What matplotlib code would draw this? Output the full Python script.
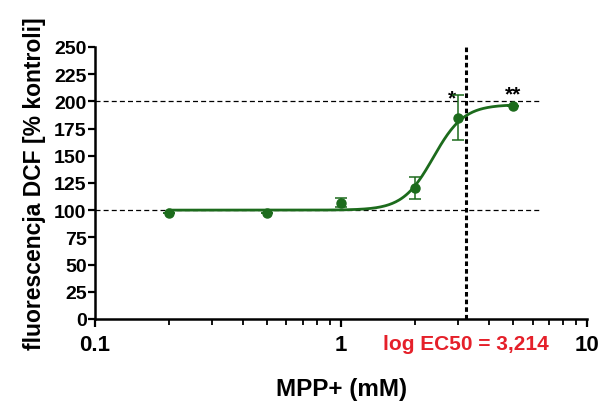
import numpy as np
import matplotlib.pyplot as plt
from matplotlib.ticker import FixedLocator, LogLocator, NullFormatter

plt.rcParams['font.family'] = ['Liberation Sans', 'DejaVu Sans']

# MPP+ concentration (mM) and DCF fluorescence (% of control)
conc_mM = [0.2, 0.5, 1.0, 2.0, 3.0, 5.0]
dcf_mean = [97, 97, 107, 120, 185, 196]
dcf_sem = [0, 0, 4, 10, 21, 0]

# four-parameter logistic fit shown as the curve
fit_bottom = 100.0
fit_top = 197.0
fit_log_ec50 = 0.375
fit_hill = 7.0

ec50_line = 3.214
ec50_label = 'log EC50 = 3,214'
ref_levels = [100, 200]
# significance marks: concentration, text, baseline height
stars = [(3.0, '*', 198.5), (5.0, '**', 202)]

GREEN = '#1c6b1c'


def hill(x):
    return fit_bottom + (fit_top - fit_bottom) / (
        1 + 10 ** ((fit_log_ec50 - np.log10(x)) * fit_hill))


fig = plt.figure(figsize=(6.01, 4.06), dpi=100)
ax = fig.add_axes([0.158, 0.212, 0.819, 0.670])

for lvl in ref_levels:
    ax.plot([0.1, 6.5], [lvl, lvl], color='black', linestyle=(0, (4, 2.5)),
            linewidth=0.9, zorder=1)
ax.plot([ec50_line, ec50_line], [0, 253], color='black', linestyle=(0, (1.5, 1)),
        linewidth=2.2, zorder=1, clip_on=False)

xs = np.logspace(np.log10(conc_mM[0]), np.log10(conc_mM[-1]), 300)
ax.plot(xs, hill(xs), color=GREEN, linewidth=2.0, zorder=3)

ax.errorbar(conc_mM, dcf_mean, yerr=dcf_sem, fmt='o', color=GREEN,
            markersize=6.5, elinewidth=1.1, capsize=4, capthick=1.1, zorder=4)

for xv, s, yb in stars:
    ax.text(xv * (0.94 if len(s) == 1 else 1.0), yb, s, ha='center',
            va='baseline', fontsize=15, fontweight='bold', color='black')

ax.set_xscale('log')
ax.set_xlim(0.1, 10)
ax.set_ylim(0, 250)
ax.xaxis.set_major_locator(FixedLocator([0.1, 1, 10]))
ax.set_xticklabels(['0.1', '1', '10'])
ax.xaxis.set_minor_locator(LogLocator(base=10, subs=np.arange(2, 10)))
ax.xaxis.set_minor_formatter(NullFormatter())
ax.set_yticks(np.arange(0, 251, 25))

for side in ('top', 'right'):
    ax.spines[side].set_visible(False)
for side in ('left', 'bottom'):
    ax.spines[side].set_linewidth(1.8)

ax.tick_params(axis='y', which='major', length=5, width=1.6, pad=1,
               labelsize=14)
ax.tick_params(axis='x', which='major', length=6, width=1.6, pad=5,
               labelsize=16)
ax.tick_params(axis='x', which='minor', length=4, width=1.3)
for lab in ax.get_xticklabels() + ax.get_yticklabels():
    lab.set_fontweight('bold')

ax.text(ec50_line, -0.09, ec50_label, transform=ax.get_xaxis_transform(),
        ha='center', va='center', fontsize=15, fontweight='bold',
        color='#e5202a')

ax.set_xlabel('MPP+ (mM)', fontsize=17.5, fontweight='bold', labelpad=16)
ax.set_ylabel('fluorescencja DCF [% kontroli]', fontsize=16.5,
              fontweight='bold', labelpad=6)

fig.savefig('out.png', dpi=100)
